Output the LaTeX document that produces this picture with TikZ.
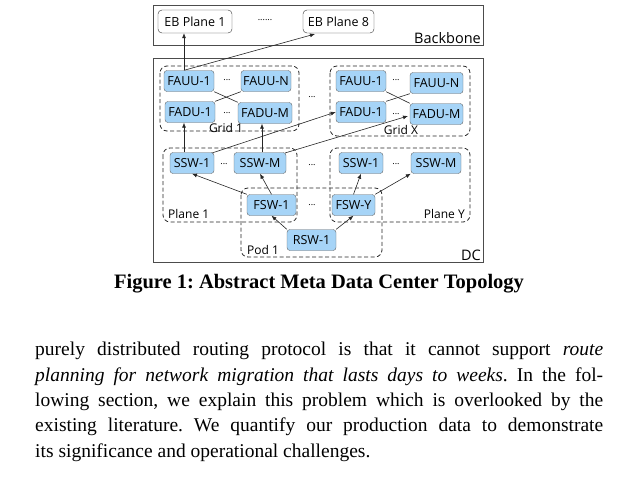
\documentclass[tikz,border=0pt]{standalone}
\usepackage{fontspec}
\setmainfont{Liberation Serif}
\newfontfamily\diag{Open Sans}
\usetikzlibrary{arrows.meta}
\definecolor{nb}{HTML}{A6D4F7}
\frenchspacing
\begin{document}
\begin{tikzpicture}[x=1pt,y=-1pt,
  sw/.style={draw=black!60,fill=nb,rounded corners=3pt,font=\diag\fontsize{12.5}{13}\selectfont,inner sep=0pt,minimum height=21pt,minimum width=#1},
  sw/.default=50pt,
  eb/.style={draw=black!80,fill=white,rounded corners=4pt,font=\diag\fontsize{12.5}{13}\selectfont,inner sep=0pt,minimum height=23pt,minimum width=#1},
  grp/.style={draw=black!85,line width=0.8pt,dash pattern=on 4pt off 2.5pt,rounded corners=7pt},
  lab/.style={font=\diag\fontsize{12}{13}\selectfont,inner sep=0pt},
  dots/.style={font=\diag\fontsize{9}{9}\selectfont,inner sep=0pt},
  arr/.style={-{Latex[length=5pt,width=4pt]},black!85,line width=0.6pt},
  ln/.style={black!85,line width=0.6pt}]
\useasboundingbox (0,0) rectangle (636,477);
% boxes
\node[draw=black!70,line width=0.8pt,minimum width=330pt,minimum height=40pt,inner sep=0pt,anchor=north west] (bb) at (153,5) {};
\node[draw=black!70,line width=0.8pt,minimum width=330pt,minimum height=204pt,inner sep=0pt,anchor=north west] (dc) at (153,58) {};
\node[font=\diag\fontsize{14.5}{15}\selectfont,anchor=south east,inner sep=0pt] (bbl) at (481,44) {Backbone};
\node[font=\diag\fontsize{14.5}{15}\selectfont,anchor=south east,inner sep=0pt] (dcl) at (481,261) {DC};
\node[eb=74pt] (eb1) at (195,21.5) {EB Plane 1};
\node[eb=71pt] (eb8) at (338.5,21.5) {EB Plane 8};
\node[dots] (ebd) at (265,20) {......};
% groups
\draw[grp] (160,66) rectangle (299,131);
\draw[grp] (330,66) rectangle (470,136);
\draw[grp] (163,148) rectangle (297,222);
\draw[grp] (330,148) rectangle (470,222);
\draw[grp] (241,188) rectangle (382,257);
\node[lab] (g1) at (226,128) {Grid 1};
\node[lab] (gx) at (401,130) {Grid X};
\node[lab,anchor=west] (p1) at (168,214) {Plane 1};
\node[lab,anchor=east] (py) at (465,214) {Plane Y};
\node[lab,anchor=west] (pod) at (247,250) {Pod 1};
% grid 1
\node[sw] (fauu1) at (189,81) {FAUU-1};
\node[sw] (fauun) at (266,81) {FAUU-N};
\node[sw] (fadu1) at (190,112) {FADU-1};
\node[sw=54pt] (fadum) at (265,113) {FADU-M};
\node[dots] at (227,80) {...};
\node[dots] at (227,113) {...};
% grid X
\node[sw] (xfauu1) at (361,81) {FAUU-1};
\node[sw=53pt] (xfauun) at (436.5,83) {FAUU-N};
\node[sw] (xfadu1) at (361,112) {FADU-1};
\node[sw=53pt] (xfadum) at (436.5,114) {FADU-M};
\node[dots] at (396,80) {...};
\node[dots] at (396,114) {...};
\node[dots] (gd) at (312,97) {...};
% planes
\node[sw=44pt] (ssw1) at (192,163) {SSW-1};
\node[sw=52pt] (sswm) at (260,163) {SSW-M};
\node[dots] at (224,164) {...};
\node[sw=44pt] (yssw1) at (361,163) {SSW-1};
\node[sw=50pt] (ysswm) at (436,163) {SSW-M};
\node[dots] at (396,164) {...};
\node[dots] (pd) at (312,165) {...};
% pod
\node[sw=49pt] (fsw1) at (271.5,205) {FSW-1};
\node[sw=43pt] (fswy) at (353.5,205) {FSW-Y};
\node[dots] at (312,205) {...};
\node[sw=49pt] (rsw1) at (311.5,240) {RSW-1};
% links
\draw[ln] (fauu1.south east) -- (fadum.north west);
\draw[ln] (fauun.south west) -- (fadu1.north east);
\draw[ln] (xfauu1.south east) -- (xfadum.north west);
\draw[ln] (xfauun.south west) -- (xfadu1.north east);
\draw[arr] (fauu1.north -| eb1.south) ++(-11,0) coordinate (a1) -- (a1 |- eb1.south);
\draw[arr] (a1) -- (315,34) coordinate (e8);
\draw[arr] (ssw1.north -| 184,0) coordinate (s1) -- (s1 |- fadu1.south);
\draw[arr] (sswm.north -| 262,0) coordinate (s2) -- (s2 |- fadum.south);
\draw[arr] (212,153) -- (xfadu1.west);
\draw[arr] (285,153) -- (408,116);
\draw[arr] (rsw1.north west) -- (fsw1.south);
\draw[arr] (rsw1.north east) -- (fswy.south);
\draw[arr] (fsw1.north west) -- (ssw1.south);
\draw[arr] (fsw1.north) -- (sswm.south);
\draw[arr] (fswy.north) -- (yssw1.south);
\draw[arr] (fswy.north east) -- (ysswm.south west);
% caption
\node[font=\fontsize{20.5}{22}\selectfont\bfseries,inner sep=0pt] (cap) at (319,284) {Figure 1: Abstract Meta Data Center Topology};
\node[anchor=north west,inner sep=0pt,text width=568pt,align=justify,font=\fontsize{19.5}{25.4}\selectfont] (body) at (35,342) {purely distributed routing protocol is that it cannot support \textit{route}\linebreak \textit{planning for network migration that lasts days to weeks}. In the fol-\linebreak lowing section, we explain this problem which is overlooked by the\linebreak existing literature. We quantify our production data to demonstrate\linebreak its significance and operational challenges.};
\end{tikzpicture}
\end{document}
